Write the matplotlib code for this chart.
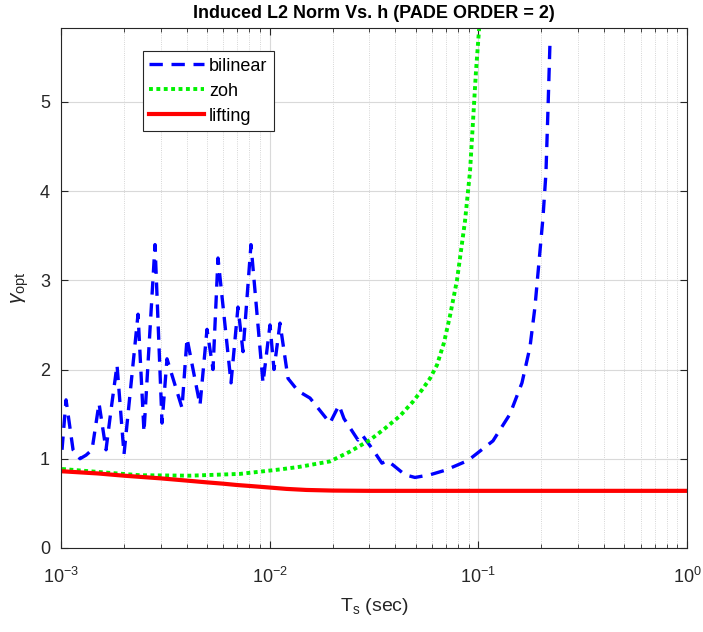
import matplotlib
matplotlib.use('Agg')
import matplotlib.pyplot as plt
import numpy as np

plt.rcParams['font.family'] = ['Liberation Sans', 'DejaVu Sans']
plt.rcParams['mathtext.fontset'] = 'custom'
plt.rcParams['mathtext.rm'] = 'Liberation Sans'
plt.rcParams['mathtext.it'] = 'Liberation Sans:italic'

# sample time values
ts_bilinear = [0.001011, 0.001057, 0.001142, 0.001233, 0.001318, 0.001408, 0.001521,
               0.001643, 0.001737, 0.001855, 0.002004, 0.002339, 0.002498, 0.002821,
               0.003048, 0.003220, 0.003800, 0.004016, 0.004634, 0.005007, 0.005349,
               0.005653, 0.006526, 0.007048, 0.007449, 0.008134, 0.009289, 0.010032,
               0.010486, 0.011204, 0.012240, 0.013667, 0.015600, 0.019447, 0.021483,
               0.022699, 0.026485, 0.027682, 0.031261, 0.034514, 0.036479, 0.038971,
               0.044484, 0.049682, 0.058630, 0.069183, 0.089173, 0.117490, 0.141700,
               0.161770, 0.176700, 0.186690, 0.195130, 0.203950, 0.210770, 0.215480,
               0.220290]
gamma_bilinear = [1.10, 1.66, 1.10, 1.00, 1.04, 1.10, 1.62,
                  1.10, 1.55, 2.05, 1.05, 2.62, 1.30, 3.40,
                  1.40, 2.12, 1.57, 2.35, 1.60, 2.45, 2.00,
                  3.25, 1.85, 2.70, 2.20, 3.40, 1.85, 2.50,
                  2.00, 2.52, 1.90, 1.76, 1.68, 1.40, 1.60,
                  1.45, 1.21, 1.27, 1.10, 0.95, 0.98, 0.93,
                  0.82, 0.79, 0.82, 0.87, 0.98, 1.20, 1.50,
                  1.85, 2.25, 2.70, 3.20, 3.70, 4.20, 4.90,
                  5.65]

ts_zoh = [0.001011, 0.001538, 0.002391, 0.004151, 0.007206, 0.011204, 0.013970,
          0.019447, 0.024251, 0.030240, 0.035682, 0.042110, 0.048609, 0.054000,
          0.058630, 0.063327, 0.068424, 0.073097, 0.078976, 0.086257, 0.091198,
          0.094250, 0.097388, 0.100670, 0.102920]
gamma_zoh = [0.885, 0.85, 0.815, 0.81, 0.83, 0.88, 0.91,
             0.97, 1.08, 1.21, 1.34, 1.48, 1.64, 1.78,
             1.90, 2.05, 2.30, 2.60, 3.00, 3.66, 4.22,
             4.78, 5.34, 5.80, 6.10]

ts_lift = [0.001, 0.0015, 0.002, 0.003, 0.004, 0.005, 0.006, 0.007, 0.008,
           0.010, 0.012, 0.015, 0.020, 0.030, 1.0]
gamma_lift = [0.86, 0.835, 0.81, 0.78, 0.755, 0.735, 0.72, 0.705, 0.695,
              0.677, 0.662, 0.650, 0.643, 0.640, 0.640]

fig = plt.figure(figsize=(7.03, 6.32), dpi=100)
ax = fig.add_axes([0.0868, 0.133, 0.8905, 0.823])

ax.plot(ts_bilinear, gamma_bilinear, color=(0, 0, 1), lw=2.4, dashes=(4, 2.6), label='bilinear')
ax.plot(ts_zoh, gamma_zoh, color=(0, 0.95, 0), lw=2.8, dashes=(1, 0.9), label='zoh')
ax.plot(ts_lift, gamma_lift, color=(1, 0, 0), lw=3.0, label='lifting')

ax.set_xscale('log')
ax.set_xlim(1e-3, 1)
ax.set_ylim(0, 5.83)
ax.set_yticks([0, 1, 2, 3, 4, 5])

ax.grid(True, which='major', color='#d9d9d9', lw=0.8, ls='-')
ax.grid(True, which='minor', axis='x', color='#c8c8c8', lw=0.6, ls=':')
ax.set_axisbelow(True)

ax.tick_params(which='both', direction='in', colors='#262626', labelsize=13,
               top=True, right=True)
ax.tick_params(which='major', length=5)
ax.tick_params(which='minor', length=3)
ax.tick_params(axis='x', which='major', pad=14)
ax.tick_params(axis='y', which='major', pad=8)
for s in ax.spines.values():
    s.set_color('#262626')
    s.set_linewidth(0.8)

ax.set_title('Induced L2 Norm Vs. h (PADE ORDER = 2)', fontsize=13, fontweight='bold', pad=7)
ax.set_xlabel(r'T$_\mathrm{s}$ (sec)', fontsize=14, color='#262626', labelpad=6)
ax.set_ylabel(r'$\gamma_\mathrm{opt}$', fontsize=15, color='#262626', labelpad=6)

leg = ax.legend(loc='upper left', bbox_to_anchor=(0.131, 0.955), fontsize=13,
                fancybox=False, framealpha=1, edgecolor='#262626',
                handlelength=3.0, borderpad=0.35, labelspacing=0.45, handletextpad=0.3,
                borderaxespad=0)
leg.get_frame().set_linewidth(0.8)

fig.savefig('out.png', dpi=100)
